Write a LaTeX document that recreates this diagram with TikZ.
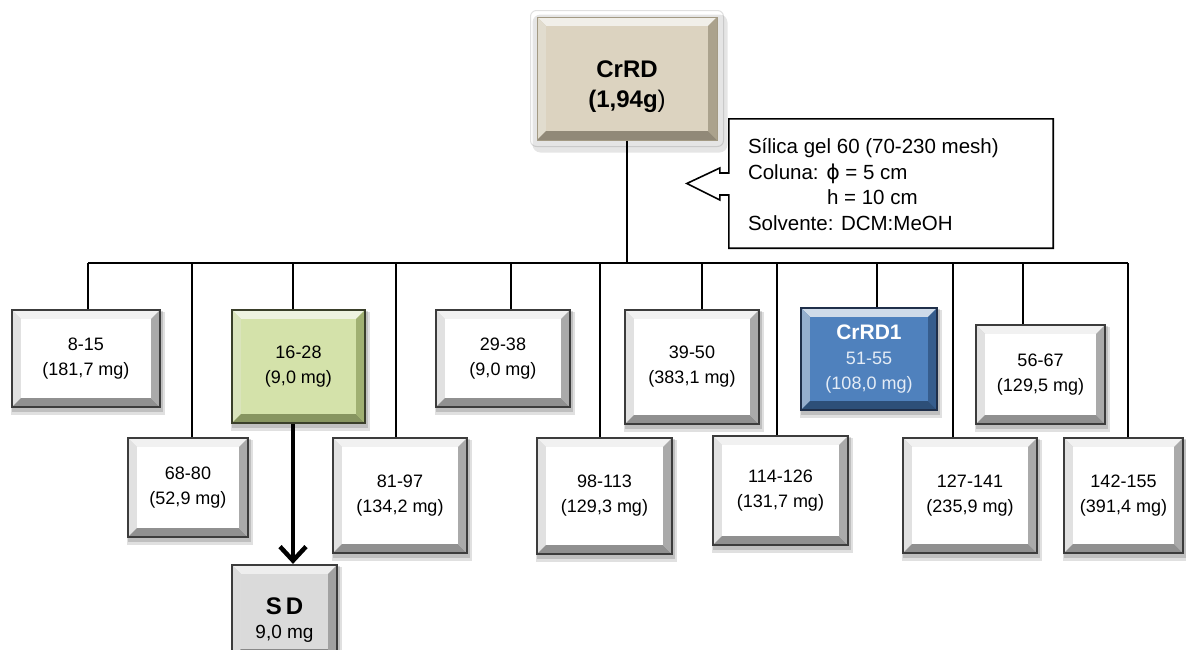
\documentclass[tikz,border=0pt]{standalone}
\usepackage{fontspec}
\setmainfont{Liberation Sans}
\newfontfamily\djv{DejaVu Sans}
\usetikzlibrary{arrows.meta,calc}
\pgfdeclarelayer{bg}
\pgfsetlayers{bg,main}
\definecolor{wIn}{HTML}{FFFFFF}
\definecolor{wFr}{HTML}{C8C8C8}
\definecolor{wBd}{HTML}{3C3C3C}
\definecolor{gIn}{HTML}{D4E2AA}
\definecolor{gFr}{HTML}{BCCF86}
\definecolor{gBd}{HTML}{3A3F2A}
\definecolor{bIn}{HTML}{4F81BD}
\definecolor{bFr}{HTML}{3F6DA6}
\definecolor{bBd}{HTML}{1F2F4A}
\definecolor{sIn}{HTML}{DADADA}
\definecolor{sFr}{HTML}{BDBDBD}
\definecolor{tIn}{HTML}{DCD3C0}
\definecolor{tFr}{HTML}{C9BFA6}
\definecolor{tBd}{HTML}{A39A84}
\definecolor{lightw}{HTML}{E4ECF6}
\newcommand\bvw{9pt}
\tikzset{
  bevbox/.style n args={3}{rectangle, inner sep=0pt, draw=#3, line width=2.2pt, fill=#2,
    path picture={
      \coordinate (pNW) at (path picture bounding box.north west);
      \coordinate (pNE) at (path picture bounding box.north east);
      \coordinate (pSE) at (path picture bounding box.south east);
      \coordinate (pSW) at (path picture bounding box.south west);
      \coordinate (qNW) at ([xshift=\bvw,yshift=-\bvw]pNW);
      \coordinate (qNE) at ([xshift=-\bvw,yshift=-\bvw]pNE);
      \coordinate (qSE) at ([xshift=-\bvw,yshift=\bvw]pSE);
      \coordinate (qSW) at ([xshift=\bvw,yshift=\bvw]pSW);
      \fill[#2!25!white] (pNW) -- (pNE) -- (qNE) -- (qNW) -- cycle;
      \fill[#2!55!white] (pNW) -- (qNW) -- (qSW) -- (pSW) -- cycle;
      \fill[#2!72!black] (pSW) -- (qSW) -- (qSE) -- (pSE) -- cycle;
      \fill[#2!85!black] (pNE) -- (pSE) -- (qSE) -- (qNE) -- cycle;
      \fill[#1] (qNW) rectangle (qSE);
    }},
  wbox/.style={bevbox={wIn}{wFr}{wBd}},
  ft/.style={font=\fontsize{18}{25}\selectfont, align=center},
  conn/.style={line width=1.3pt, draw=black},
  bigarrow/.style={line width=4.5pt, -{Straight Barb[length=14pt,width=26pt]}},
}
\begin{document}
\begin{tikzpicture}[x=1pt,y=-1pt]
\useasboundingbox (0,0) rectangle (1186,649);

% top box
\node[bevbox={tIn}{tFr}{tBd}, line width=1pt, minimum width=180pt, minimum height=123pt] (crrd) at (627,78.5) {};
\node[font=\bfseries\fontsize{24}{30}\selectfont, align=center, inner sep=0pt] (crrdtxt) at ([yshift=-8pt]crrd.center) {CrRD\\(1,94g{\mdseries)}};

% info callout
\node[minimum width=324pt, minimum height=129pt, inner sep=0pt] (infobox) at (891,183.5) {};
\draw[line width=1.6pt, fill=white] (infobox.north west) -- (infobox.north east) -- (infobox.south east) -- (infobox.south west)
  -- ([yshift=-11.5pt]infobox.west) -- ([xshift=-9pt,yshift=-11.5pt]infobox.west) -- ([xshift=-9pt,yshift=-16.5pt]infobox.west)
  -- ([xshift=-42pt]infobox.west) -- ([xshift=-9pt,yshift=15.5pt]infobox.west) -- ([xshift=-9pt,yshift=10.5pt]infobox.west)
  -- ([yshift=10.5pt]infobox.west) -- cycle;
\node[font=\fontsize{20.5}{25.5}\selectfont, align=left, anchor=west, inner sep=0pt] (infotxt) at ([xshift=19pt,yshift=-1pt]infobox.west)
  {Sílica gel 60 (70-230 mesh)\\Coluna: {\djv ϕ} = 5 cm\\\hspace*{79pt}h = 10 cm\\Solvente: DCM:MeOH};

% row 1
\node[wbox, ft, minimum width=148pt, minimum height=97pt] (n815) at (86,358.5) {8-15\\(181,7 mg)};
\node[bevbox={gIn}{gFr}{gBd}, ft, minimum width=133pt, minimum height=113pt] (n1628) at (298.5,366.5) {16-28\\(9,0 mg)};
\node[wbox, ft, minimum width=134pt, minimum height=97pt] (n2938) at (503,358.5) {29-38\\(9,0 mg)};
\node[wbox, ft, minimum width=134pt, minimum height=114pt] (n3950) at (692,367) {39-50\\(383,1 mg)};
\node[bevbox={bIn}{bFr}{bBd}, ft, text=white, minimum width=136pt, minimum height=102pt] (crrd1) at (869,359)
  {{\bfseries\fontsize{21}{25}\selectfont CrRD1}\\{\color{lightw}51-55}\\{\color{lightw}(108,0 mg)}};
\node[wbox, ft, minimum width=129pt, minimum height=99pt] (n5667) at (1040.5,374.5) {56-67\\(129,5 mg)};

% row 2
\node[wbox, ft, minimum width=120pt, minimum height=99pt] (n6880) at (188,487.5) {68-80\\(52,9 mg)};
\node[wbox, ft, minimum width=134pt, minimum height=115pt] (n8197) at (400,495.5) {81-97\\(134,2 mg)};
\node[wbox, ft, minimum width=135pt, minimum height=116pt] (n98113) at (604.5,496) {98-113\\(129,3 mg)};
\node[wbox, ft, minimum width=135pt, minimum height=109pt] (n114126) at (780.5,490.5) {114-126\\(131,7 mg)};
\node[wbox, ft, minimum width=134pt, minimum height=115pt] (n127141) at (970,495.5) {127-141\\(235,9 mg)};
\node[wbox, ft, minimum width=119pt, minimum height=115pt] (n142155) at (1123.5,495.5) {142-155\\(391,4 mg)};

% SD
\node[bevbox={sIn}{sFr}{wBd}, minimum width=105pt, minimum height=93pt] (sd) at (284.5,611.5) {};
\node[align=center, inner sep=0pt] (sdtxt) at (284.5,620)
  {{\bfseries\fontsize{24}{28}\selectfont S\hspace{4pt}D}\\[9pt]{\fontsize{19}{22}\selectfont 9,0 mg}};

% shadows
\begin{pgfonlayer}{bg}
  \fill[white, draw=black!12, line width=1pt, rounded corners=6pt] ([shift={(-6pt,6pt)}]crrd.north west) rectangle ([shift={(6pt,-6pt)}]crrd.south east);
  \fill[black, opacity=0.10, rounded corners=8pt] ([shift={(-4pt,2pt)}]crrd.north west) rectangle ([shift={(10pt,-12pt)}]crrd.south east);
  \foreach \n in {n815,n1628,n2938,n3950,crrd1,n5667,n6880,n8197,n98113,n114126,n127141,n142155,sd} {
    \fill[black, opacity=0.12] ([shift={(0pt,-3pt)}]\n.north west) rectangle ([shift={(4pt,-7pt)}]\n.south east);
    \fill[black, opacity=0.15] ([shift={(1pt,-2pt)}]\n.north west) rectangle ([shift={(2pt,-4pt)}]\n.south east);
  }
\end{pgfonlayer}

% connectors
\coordinate (bus) at (0,263);
\draw[conn] (crrd.south) -- (crrd.south |- bus);
\draw[conn] ([xshift=2pt]n815.north |- bus) -- ([xshift=4.5pt]n142155.north |- bus);
\foreach \n/\dx in {n815/2, n6880/4, n1628/-5.5, n8197/-4, n2938/8, n98113/-4.5, n3950/10, n114126/-3.5, crrd1/8, n127141/-17, n5667/-17.5, n142155/4.5} {
  \draw[conn] ([xshift=\dx pt]\n.north) -- ([xshift=\dx pt]\n.north |- bus);
}
\draw[bigarrow] ([xshift=-5.5pt]n1628.south) -- ([xshift=-5.5pt]n1628.south |- sd.north);
\end{tikzpicture}
\end{document}
